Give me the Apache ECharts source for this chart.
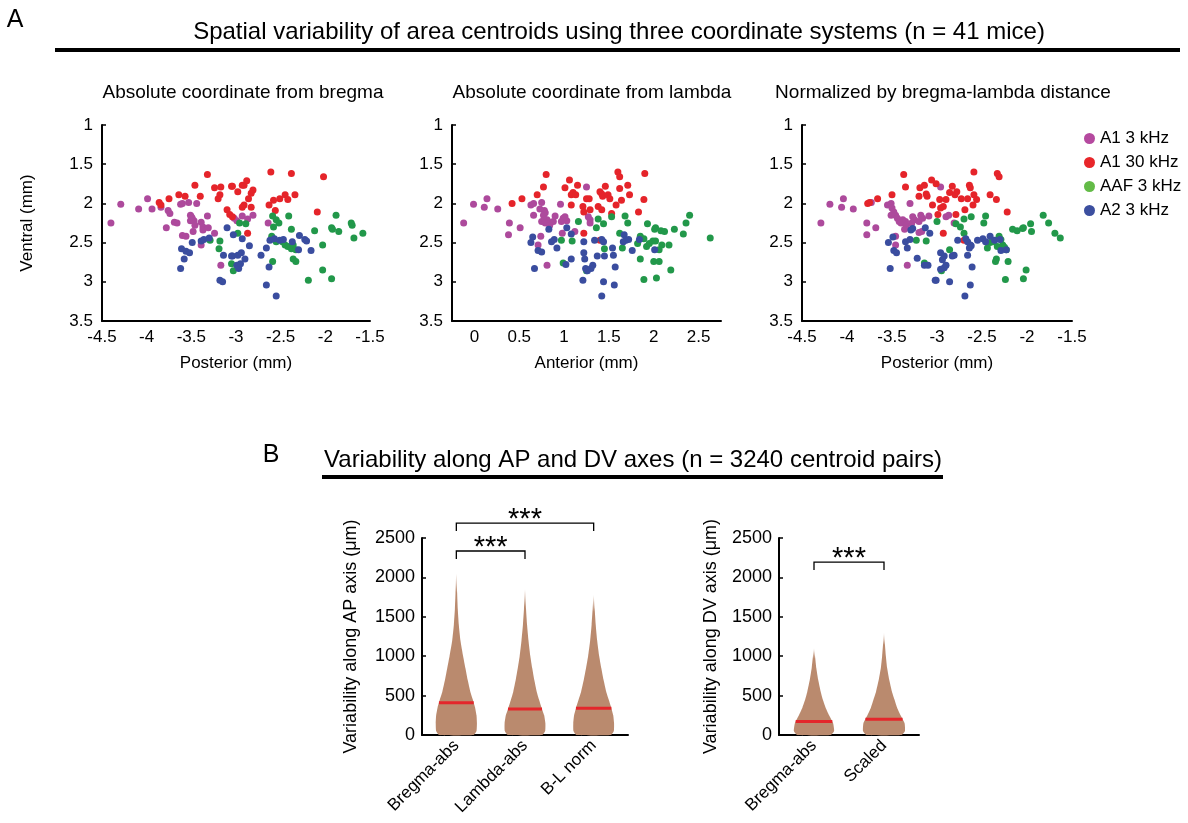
<!DOCTYPE html>
<html lang="en">
<head>
<meta charset="UTF-8">
<script src="https://cdn.jsdelivr.net/npm/echarts/dist/echarts.min.js"></script>
<title>Spatial variability of area centroids</title>
<style>
    html, body { margin: 0; padding: 0; background: #fff; }
    #chart { width: 1188px; height: 823px; }
</style>
</head>
<body>
<div id="chart"></div>
<script>
const FONT = "'Liberation Sans', Arial, sans-serif";

// ---- A: centroid positions (x = AP in mm, y = ventral in mm) ----
const groupNames = ['A1 3 kHz', 'A1 30 kHz', 'AAF 3 kHz', 'A2 3 kHz'];

const bregmaA1Low = [[-4.40,2.25],[-4.29,2.01],[-4.09,2.07],[-3.99,1.94],[-3.94,2.07],[-3.84,2.05],[-3.76,2.09],[-3.74,2.13],[-3.78,2.31],[-3.69,2.24],[-3.66,2.25],[-3.62,2.01],[-3.60,2.00],[-3.53,1.99],[-3.44,2.00],[-3.51,2.15],[-3.49,2.19],[-3.51,2.22],[-3.47,2.22],[-3.48,2.36],[-3.60,2.41],[-3.56,2.42],[-3.39,2.24],[-3.37,2.30],[-3.37,2.34],[-3.31,2.31],[-3.32,2.16],[-3.24,2.38],[-3.39,2.53],[-3.17,2.79],[-3.02,2.19],[-2.99,2.22],[-2.93,2.16],[-2.87,2.20],[-2.81,2.15],[-2.64,2.25],[-3.50,2.17],[-3.46,2.28]];
const bregmaA1High = [[-3.32,1.63],[-3.46,1.77],[-3.24,1.80],[-3.17,1.79],[-3.05,1.78],[-3.64,1.89],[-3.57,1.91],[-3.40,1.91],[-3.75,1.94],[-3.86,1.99],[-3.84,2.02],[-3.20,1.94],[-3.18,1.89],[-3.10,2.08],[-3.07,2.14],[-3.04,2.17],[-2.61,1.60],[-2.38,1.62],[-2.02,1.66],[-3.04,1.78],[-2.93,1.77],[-2.91,1.77],[-2.88,1.71],[-2.98,1.85],[-2.83,1.87],[-2.81,1.83],[-2.86,1.94],[-2.91,2.02],[-2.93,2.05],[-2.83,2.05],[-2.63,2.02],[-2.58,1.96],[-2.51,1.94],[-2.45,1.89],[-2.42,1.95],[-2.34,1.89],[-2.56,2.09],[-2.09,2.11],[-2.87,2.38]];
const bregmaAAF = [[-3.18,2.48],[-3.19,2.58],[-3.29,2.47],[-3.05,2.77],[-3.03,2.86],[-2.96,2.25],[-2.89,2.26],[-2.98,2.38],[-2.59,2.16],[-2.55,2.21],[-2.52,2.25],[-2.58,2.30],[-2.41,2.16],[-2.38,2.33],[-2.60,2.42],[-2.55,2.49],[-2.48,2.49],[-2.45,2.53],[-2.42,2.55],[-2.38,2.58],[-2.36,2.53],[-2.33,2.59],[-2.59,2.74],[-2.36,2.71],[-2.33,2.74],[-2.12,2.35],[-2.03,2.53],[-1.88,2.15],[-1.93,2.31],[-1.92,2.33],[-1.85,2.36],[-1.71,2.25],[-1.70,2.28],[-1.68,2.44],[-1.58,2.38],[-2.03,2.85],[-2.19,2.98],[-1.93,2.96]];
const bregmaA2 = [[-3.10,2.31],[-3.49,2.50],[-3.39,2.48],[-3.36,2.46],[-3.30,2.44],[-3.61,2.58],[-3.56,2.61],[-3.52,2.63],[-3.58,2.71],[-3.62,2.83],[-3.14,2.66],[-3.05,2.67],[-3.18,2.98],[-3.15,3.00],[-3.03,2.40],[-2.93,2.45],[-2.85,2.54],[-3.04,2.67],[-2.98,2.66],[-2.94,2.63],[-2.90,2.71],[-2.99,2.79],[-2.97,2.83],[-2.66,2.57],[-2.72,2.66],[-2.63,2.81],[-2.66,3.04],[-2.55,3.18],[-2.62,2.47],[-2.57,2.45],[-2.51,2.47],[-2.47,2.46],[-2.37,2.49],[-2.29,2.41],[-2.23,2.46],[-2.21,2.48],[-2.30,2.59],[-2.16,2.60],[-2.95,2.77]];

const lambdaA1Low = [[-0.12,2.25],[-0.01,2.01],[0.11,2.05],[0.14,1.94],[0.26,2.07],[0.39,2.25],[0.38,2.40],[0.51,2.31],[0.63,2.02],[0.66,2.00],[0.75,1.99],[0.66,2.15],[0.73,2.07],[0.78,2.09],[0.79,2.12],[0.77,2.15],[0.75,2.23],[0.78,2.20],[0.81,2.21],[0.82,2.23],[0.79,2.25],[0.84,2.28],[0.88,2.23],[0.90,2.16],[0.96,2.01],[0.99,2.19],[1.03,2.22],[0.97,2.23],[1.01,2.17],[0.98,2.38],[1.12,2.36],[0.71,2.53],[0.74,2.42],[0.81,2.79],[1.25,1.79],[1.27,2.17],[1.29,2.21],[1.29,2.25]];
const lambdaA1High = [[0.42,2.00],[0.53,1.94],[0.70,1.89],[0.77,1.79],[0.80,1.63],[1.01,1.80],[1.06,1.70],[1.15,1.77],[1.08,1.89],[1.10,1.86],[1.13,1.89],[1.08,2.02],[1.21,2.04],[1.22,2.11],[1.22,2.38],[1.25,1.94],[1.60,1.60],[1.62,1.66],[1.90,1.62],[1.46,1.78],[1.62,1.81],[1.71,1.77],[1.73,1.89],[1.40,1.85],[1.42,1.88],[1.43,1.91],[1.49,1.89],[1.51,1.94],[1.28,1.94],[1.64,1.96],[1.89,1.95],[1.58,2.02],[1.38,2.04],[1.42,2.08],[1.29,2.08],[1.53,2.13],[1.83,2.11],[1.40,2.47]];
const lambdaAAF = [[1.16,2.23],[0.97,2.47],[1.09,2.48],[0.99,2.76],[1.25,2.86],[1.38,2.20],[1.44,2.26],[1.36,2.31],[1.53,2.17],[1.68,2.16],[1.71,2.25],[1.93,2.26],[2.02,2.31],[2.01,2.33],[2.08,2.35],[2.12,2.36],[2.23,2.33],[2.33,2.39],[2.36,2.25],[2.40,2.15],[2.63,2.44],[1.62,2.38],[1.85,2.42],[1.89,2.45],[1.82,2.51],[1.92,2.55],[1.95,2.51],[1.99,2.48],[2.02,2.48],[2.09,2.53],[2.06,2.59],[2.17,2.53],[1.65,2.57],[1.45,2.58],[1.85,2.71],[2.00,2.74],[2.06,2.74],[2.19,2.85],[1.89,2.97],[2.03,2.95]];
const lambdaA2 = [[1.03,2.31],[0.83,2.33],[0.86,2.49],[0.89,2.46],[0.92,2.57],[0.65,2.43],[0.63,2.50],[0.71,2.60],[0.75,2.62],[0.67,2.83],[1.02,2.78],[1.08,2.71],[1.08,2.39],[1.22,2.49],[1.22,2.63],[1.23,2.71],[1.24,2.83],[1.21,2.98],[1.34,2.47],[1.42,2.46],[1.44,2.49],[1.37,2.67],[1.45,2.67],[1.55,2.66],[1.54,2.57],[1.57,2.81],[1.32,2.79],[1.30,2.83],[1.26,2.86],[1.44,3.00],[1.56,3.04],[1.42,3.18],[1.67,2.40],[1.69,2.47],[1.66,2.49],[1.72,2.46],[1.76,2.60],[1.84,2.46],[2.01,2.59]];

const normA1Low = [[-4.29,2.25],[-4.19,2.01],[-4.06,2.05],[-4.04,1.94],[-3.93,2.07],[-3.78,2.25],[-3.78,2.40],[-3.68,2.31],[-3.73,1.99],[-3.55,2.02],[-3.51,2.00],[-3.50,2.06],[-3.48,2.11],[-3.46,2.15],[-3.51,2.15],[-3.44,2.19],[-3.42,2.23],[-3.38,2.21],[-3.40,2.25],[-3.35,2.23],[-3.34,2.28],[-3.36,2.33],[-3.30,2.00],[-3.27,2.17],[-3.25,2.21],[-3.28,2.25],[-3.20,2.23],[-3.16,2.19],[-3.18,2.15],[-3.09,2.16],[-3.20,2.37],[-3.17,2.36],[-3.46,2.53],[-3.46,2.42],[-3.33,2.79],[-2.96,1.79],[-2.90,2.17],[-2.87,2.15],[-2.81,2.25]];
const normA1High = [[-3.77,2.00],[-3.75,1.99],[-3.66,1.94],[-3.50,1.89],[-3.37,1.63],[-3.35,1.79],[-3.20,1.91],[-3.19,1.80],[-3.14,1.77],[-3.11,1.91],[-3.12,1.88],[-3.06,1.70],[-3.01,1.75],[-3.05,2.02],[-2.99,2.14],[-2.59,1.60],[-2.33,1.62],[-2.31,1.66],[-2.83,1.78],[-2.78,1.85],[-2.80,1.89],[-2.86,1.86],[-2.64,1.77],[-2.63,1.80],[-2.59,1.89],[-2.56,1.95],[-2.41,1.89],[-2.34,1.95],[-2.73,1.94],[-2.66,1.94],[-2.90,1.95],[-2.97,1.95],[-2.69,2.08],[-2.60,2.02],[-2.96,2.06],[-2.93,2.04],[-2.79,2.14],[-2.22,2.11],[-2.93,2.38],[-2.70,2.47]];
const normAAF = [[-3.23,2.47],[-3.12,2.48],[-3.14,2.76],[-3.00,2.23],[-2.74,2.30],[-2.70,2.20],[-2.79,2.26],[-2.62,2.17],[-2.48,2.25],[-2.46,2.16],[-2.70,2.38],[-2.16,2.33],[-2.11,2.35],[-2.05,2.32],[-2.04,2.31],[-1.96,2.26],[-1.95,2.36],[-1.82,2.15],[-1.76,2.25],[-1.69,2.38],[-1.63,2.44],[-2.41,2.50],[-2.37,2.49],[-2.31,2.42],[-2.29,2.46],[-2.33,2.55],[-2.27,2.53],[-2.25,2.56],[-2.23,2.59],[-2.44,2.57],[-2.86,2.59],[-2.34,2.71],[-2.35,2.74],[-2.21,2.74],[-2.01,2.85],[-2.04,2.96],[-2.24,2.97],[-2.95,2.86]];
const normA2 = [[-3.27,2.32],[-3.29,2.34],[-3.13,2.31],[-3.08,2.38],[-3.49,2.43],[-3.54,2.50],[-3.48,2.60],[-3.45,2.63],[-3.35,2.49],[-3.30,2.46],[-3.33,2.57],[-3.52,2.83],[-3.22,2.70],[-3.14,2.79],[-3.10,2.79],[-3.02,2.98],[-2.77,2.47],[-2.68,2.45],[-2.66,2.49],[-2.63,2.53],[-2.64,2.57],[-2.62,2.54],[-2.55,2.47],[-2.49,2.45],[-2.46,2.49],[-2.41,2.42],[-2.36,2.47],[-2.30,2.46],[-2.29,2.60],[-2.23,2.59],[-2.96,2.63],[-2.92,2.67],[-2.94,2.72],[-2.83,2.67],[-2.81,2.66],[-2.66,2.66],[-2.61,2.81],[-2.90,2.79],[-2.92,2.82],[-2.96,2.84],[-3.01,2.98],[-2.86,3.00],[-2.63,3.04],[-2.69,3.18]];

// ---- B: violin plots (variability in µm) ----
const apCategories = ['Bregma-abs', 'Lambda-abs', 'B-L norm'];
const dvCategories = ['Bregma-abs', 'Scaled'];
// levels where the violin width was read, and relative half-widths at those levels
const densityLevels = [0, 50, 150, 250, 350, 450, 550, 700, 850, 1000, 1200, 1400, 1600, 1800, 2000];
const apDensity = [
    [0.84, 0.98, 1.00, 0.98, 0.91, 0.80, 0.68, 0.55, 0.44, 0.33, 0.20, 0.12, 0.07, 0.04, 0.015],
    [0.84, 0.98, 0.99, 0.93, 0.80, 0.68, 0.57, 0.45, 0.35, 0.26, 0.17, 0.10, 0.05, 0.02, 0],
    [0.84, 0.98, 0.99, 0.95, 0.85, 0.73, 0.61, 0.48, 0.37, 0.27, 0.17, 0.10, 0.05, 0, 0]
];
const apTops = [2050, 1850, 1780];
const apMedians = [410, 330, 340];
const dvDensity = [
    [0.80, 0.96, 0.91, 0.72, 0.55, 0.42, 0.32, 0.20, 0.11, 0.05, 0, 0, 0, 0, 0],
    [0.84, 1.00, 0.98, 0.79, 0.62, 0.50, 0.38, 0.25, 0.15, 0.09, 0.03, 0, 0, 0, 0]
];
const dvTops = [1100, 1300];
const dvMedians = [170, 200];
// significance brackets: [from category, to category, bar level, end of drop]
const apBrackets = [[0, 1, 2335, 2234], [0, 2, 2690, 2589]];
const dvBrackets = [[0, 1, 2195, 2094]];

const scatterColors = ['#ad4a9c', '#e5242a', '#22984a', '#3a4d9f'];
const legendColors = ['#b5499f', '#e8262a', '#63bb47', '#3c4f9f'];
const violinColor = '#ba8a6e';

const chart = echarts.init(document.getElementById('chart'));

function tickText(v) {
    if (Math.abs(v * 2 - Math.round(v * 2)) > 1e-6) return '';
    return String(Math.round(v * 100) / 100);
}

function scatterX(idx, min, max, name) {
    return {
        gridIndex: idx, type: 'value', min: min, max: max, interval: 0.25,
        name: name, nameLocation: 'middle', nameGap: 34,
        nameTextStyle: { fontSize: 17, fontFamily: FONT, color: '#000' },
        axisLine: { show: true, onZero: false, lineStyle: { color: '#000', width: 2 } },
        axisTick: { show: false },
        axisLabel: { formatter: tickText, fontSize: 17, fontFamily: FONT, color: '#000', margin: 8 },
        splitLine: { show: false }
    };
}

function scatterY(idx, name) {
    return {
        gridIndex: idx, type: 'value', inverse: true, min: 1, max: 3.5, interval: 0.5,
        name: name, nameLocation: 'middle', nameGap: 66,
        nameTextStyle: { fontSize: 17, fontFamily: FONT, color: '#000' },
        axisLine: { show: true, onZero: false, lineStyle: { color: '#000', width: 2 } },
        axisTick: { show: true, inside: true, length: 4, lineStyle: { color: '#000', width: 1.5 } },
        axisLabel: { fontSize: 17, fontFamily: FONT, color: '#000', margin: 9 },
        splitLine: { show: false }
    };
}

function violinX(idx, cats) {
    return {
        gridIndex: idx, type: 'category', data: cats, boundaryGap: true,
        axisLine: { lineStyle: { color: '#000', width: 2 } },
        axisTick: { show: false },
        axisLabel: { rotate: 45, fontSize: 17, fontFamily: FONT, color: '#000', margin: 8, interval: 0 }
    };
}

function violinY(idx, name, gap) {
    return {
        gridIndex: idx, type: 'value', min: 0, max: 2500, interval: 500,
        name: name, nameLocation: 'middle', nameGap: gap,
        nameTextStyle: { fontSize: 18, fontFamily: FONT, color: '#000' },
        axisLine: { show: true, lineStyle: { color: '#000', width: 2 } },
        axisTick: { show: true, inside: true, length: 4, lineStyle: { color: '#000', width: 1.5 } },
        axisLabel: { formatter: v => String(v), fontSize: 18, fontFamily: FONT, color: '#000', margin: 7 },
        splitLine: { show: false }
    };
}

function widthAt(dens, v) {
    for (let k = 0; k < densityLevels.length - 1; k++) {
        if (v >= densityLevels[k] && v <= densityLevels[k + 1]) {
            const t = (v - densityLevels[k]) / (densityLevels[k + 1] - densityLevels[k]);
            return dens[k] + t * (dens[k + 1] - dens[k]);
        }
    }
    return 0;
}

function violinRenderer(density, tops, medians) {
    return function (params, api) {
        const i = api.value(0);
        const scale = api.size([1, 0])[0] * 0.3;
        const dens = density[i];
        const right = [], left = [];
        for (let k = 0; k < densityLevels.length; k++) {
            const lv = densityLevels[k];
            if (lv >= tops[i]) break;
            const c = api.coord([i, lv]);
            const hw = dens[k] * scale;
            right.push([c[0] + hw, c[1]]);
            left.unshift([c[0] - hw, c[1]]);
        }
        const tip = api.coord([i, tops[i]]);
        const m = api.coord([i, medians[i]]);
        const mhw = widthAt(dens, medians[i]) * scale;
        return {
            type: 'group',
            children: [
                {
                    type: 'polygon',
                    shape: { points: right.concat([tip], left), smooth: 0.15 },
                    style: {
                        fill: new echarts.graphic.LinearGradient(0, 0, 0, 1, [
                            { offset: 0, color: 'rgba(186,138,110,0.1)' },
                            { offset: 0.12, color: violinColor },
                            { offset: 1, color: violinColor }
                        ])
                    }
                },
                {
                    type: 'line',
                    shape: { x1: m[0] - mhw, y1: m[1], x2: m[0] + mhw, y2: m[1] },
                    style: { stroke: '#e4262b', lineWidth: 3 }
                }
            ]
        };
    };
}

function bracketRenderer(params, api) {
    const a0 = api.coord([api.value(0), api.value(3)]);
    const a = api.coord([api.value(0), api.value(2)]);
    const b = api.coord([api.value(1), api.value(2)]);
    const b0 = api.coord([api.value(1), api.value(3)]);
    return {
        type: 'group',
        children: [
            { type: 'polyline', shape: { points: [a0, a, b, b0] }, style: { stroke: '#000', lineWidth: 1.3, fill: null } },
            {
                type: 'text',
                style: {
                    text: '***', x: (a[0] + b[0]) / 2, y: a[1] - 3,
                    align: 'center', verticalAlign: 'middle',
                    fontSize: 29, fontFamily: FONT, fill: '#000'
                }
            }
        ]
    };
}

const panels = [
    [bregmaA1Low, bregmaA1High, bregmaAAF, bregmaA2],
    [lambdaA1Low, lambdaA1High, lambdaAAF, lambdaA2],
    [normA1Low, normA1High, normAAF, normA2]
];

const series = [];
panels.forEach(function (groups, p) {
    groups.forEach(function (pts, g) {
        series.push({
            type: 'scatter', name: groupNames[g],
            xAxisIndex: p, yAxisIndex: p,
            data: pts, symbolSize: 7,
            itemStyle: { color: scatterColors[g], opacity: 1 },
            silent: true
        });
    });
});

series.push({
    type: 'custom', xAxisIndex: 3, yAxisIndex: 3,
    data: apCategories.map((c, i) => [i, apMedians[i]]),
    renderItem: violinRenderer(apDensity, apTops, apMedians), silent: true
});
series.push({
    type: 'custom', xAxisIndex: 4, yAxisIndex: 4,
    data: dvCategories.map((c, i) => [i, dvMedians[i]]),
    renderItem: violinRenderer(dvDensity, dvTops, dvMedians), silent: true
});
series.push({ type: 'custom', xAxisIndex: 3, yAxisIndex: 3, data: apBrackets, renderItem: bracketRenderer, silent: true });
series.push({ type: 'custom', xAxisIndex: 4, yAxisIndex: 4, data: dvBrackets, renderItem: bracketRenderer, silent: true });

const options = {
    animation: false,
    backgroundColor: '#fff',
    textStyle: { fontFamily: FONT },
    grid: [
        { left: 102, top: 125, width: 268, height: 196 },
        { left: 452, top: 125, width: 269, height: 196 },
        { left: 802, top: 125, width: 270, height: 196 },
        { left: 422, top: 538, width: 206, height: 197 },
        { left: 779, top: 538, width: 140, height: 197 }
    ],
    xAxis: [
        scatterX(0, -4.5, -1.5, 'Posterior (mm)'),
        scatterX(1, -0.25, 2.75, 'Anterior (mm)'),
        scatterX(2, -4.5, -1.5, 'Posterior (mm)'),
        violinX(3, apCategories),
        violinX(4, dvCategories)
    ],
    yAxis: [
        scatterY(0, 'Ventral (mm)'),
        scatterY(1, ''),
        scatterY(2, ''),
        violinY(3, 'Variability along AP axis (μm)', 62),
        violinY(4, 'Variability along DV axis (μm)', 59)
    ],
    legend: {
        orient: 'vertical', left: 1079, top: 125,
        icon: 'circle', itemWidth: 11, itemHeight: 11, itemGap: 7,
        selectedMode: false,
        textStyle: { fontSize: 17, fontFamily: FONT, color: '#000' },
        data: groupNames.map((n, g) => ({ name: n, itemStyle: { color: legendColors[g] } }))
    },
    graphic: [
        { type: 'text', x: 15, y: 20, style: { text: 'A', fontSize: 25, fontFamily: FONT, fill: '#000', align: 'center', verticalAlign: 'middle' } },
        { type: 'text', x: 619, y: 32, style: { text: 'Spatial variability of area centroids using three coordinate systems (n = 41 mice)', fontSize: 24, fontFamily: FONT, fill: '#000', align: 'center', verticalAlign: 'middle' } },
        { type: 'rect', shape: { x: 55, y: 48, width: 1125, height: 4 }, style: { fill: '#000' } },
        { type: 'text', x: 243, y: 93, style: { text: 'Absolute coordinate from bregma', fontSize: 19, fontFamily: FONT, fill: '#000', align: 'center', verticalAlign: 'middle' } },
        { type: 'text', x: 592, y: 93, style: { text: 'Absolute coordinate from lambda', fontSize: 19, fontFamily: FONT, fill: '#000', align: 'center', verticalAlign: 'middle' } },
        { type: 'text', x: 943, y: 93, style: { text: 'Normalized by bregma-lambda distance', fontSize: 19, fontFamily: FONT, fill: '#000', align: 'center', verticalAlign: 'middle' } },
        { type: 'text', x: 271, y: 455, style: { text: 'B', fontSize: 25, fontFamily: FONT, fill: '#000', align: 'center', verticalAlign: 'middle' } },
        { type: 'text', x: 633, y: 460, style: { text: 'Variability along AP and DV axes (n = 3240 centroid pairs)', fontSize: 24, fontFamily: FONT, fill: '#000', align: 'center', verticalAlign: 'middle' } },
        { type: 'rect', shape: { x: 322, y: 475, width: 621, height: 4 }, style: { fill: '#000' } }
    ],
    series: series
};

chart.setOption(options);
</script>
</body>
</html>
